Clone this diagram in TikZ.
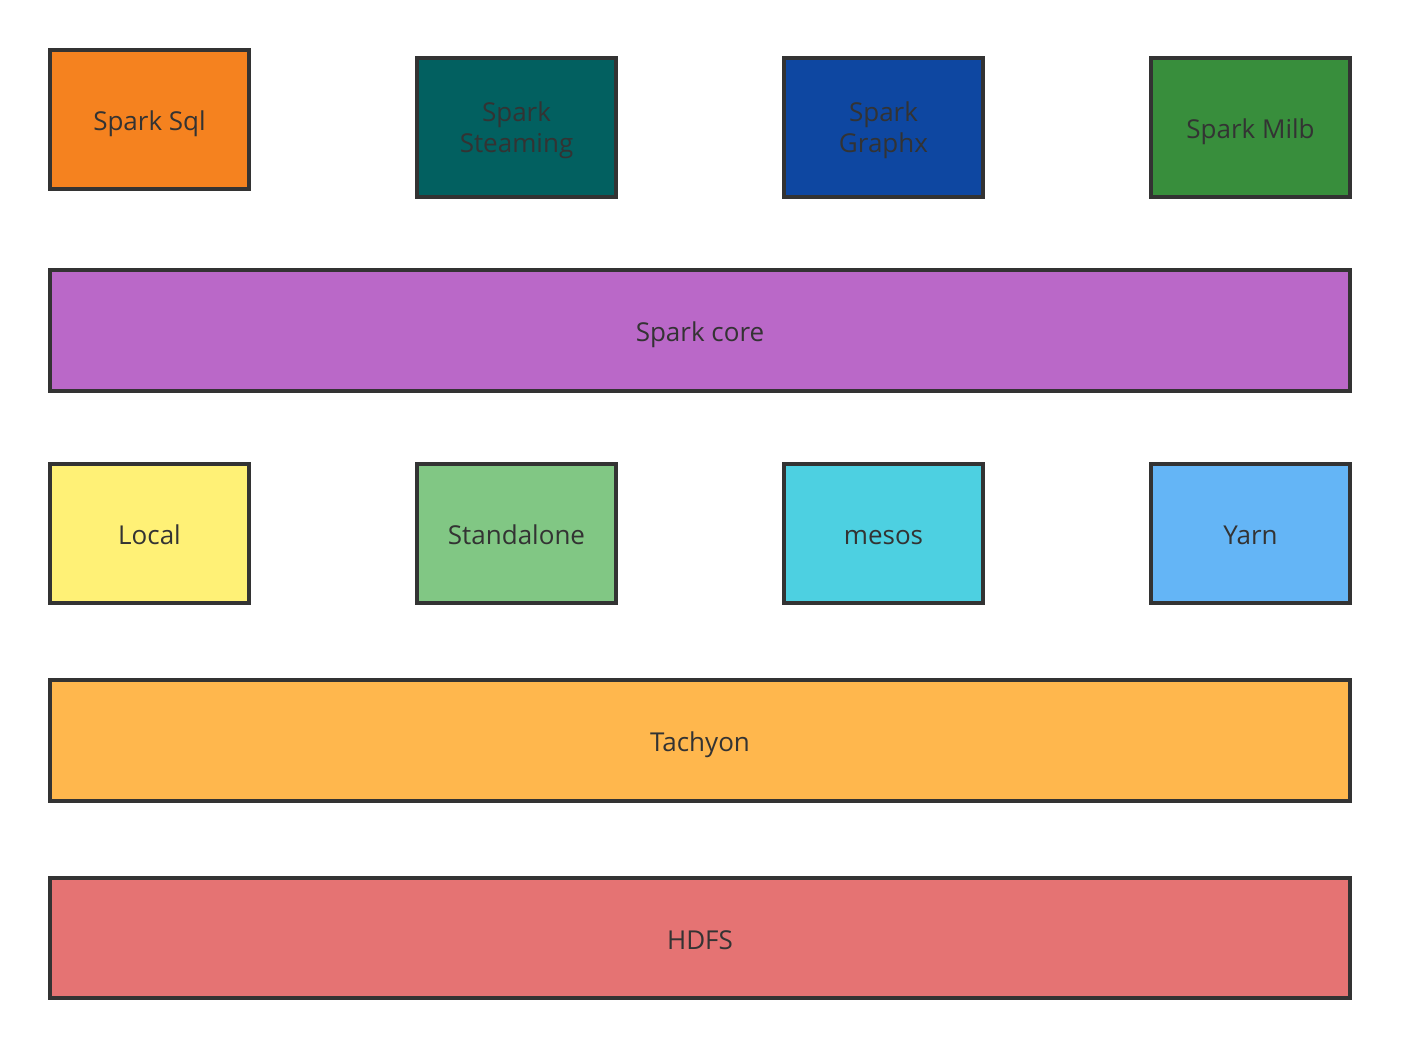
\documentclass[tikz,border=0pt]{standalone}
\usepackage{fontspec}
\setmainfont{Open Sans}
\usepackage{xcolor}
\definecolor{edgegray}{HTML}{333333}
\definecolor{sqlorange}{HTML}{F5821F}
\definecolor{streamteal}{HTML}{026060}
\definecolor{graphblue}{HTML}{0E47A1}
\definecolor{mlibgreen}{HTML}{388E3C}
\definecolor{corepurple}{HTML}{BA68C8}
\definecolor{localyellow}{HTML}{FFF176}
\definecolor{standgreen}{HTML}{81C784}
\definecolor{mesoscyan}{HTML}{4DD0E1}
\definecolor{yarnblue}{HTML}{64B5F6}
\definecolor{tachamber}{HTML}{FFB74D}
\definecolor{hdfsred}{HTML}{E57373}
\usetikzlibrary{positioning}

\begin{document}
\begin{tikzpicture}[
  block/.style={draw=edgegray, line width=2.3pt, text=edgegray, align=center,
    font=\fontsize{14.8pt}{17.6pt}\selectfont, inner sep=0pt,
    text height=12.8pt, text depth=0pt,
    minimum width=3.98cm, minimum height=2.78cm},
  twoline/.style={block, text height=28.8pt},
  layer/.style={block, minimum width=26.0cm, minimum height=2.42cm}
]
\useasboundingbox (0,0) rectangle (28.02,21);

% --- Top row: libraries ---
\node[block, fill=sqlorange]     (sql)    at (2.99,18.61)  {Spark Sql};
\node[twoline, fill=streamteal]  (stream) at (10.33,18.45) {Spark\\Steaming};
\node[twoline, fill=graphblue]   (graphx) at (17.67,18.45) {Spark\\Graphx};
\node[block, fill=mlibgreen]     (milb)   at (25.01,18.45) {Spark Milb};

% --- Core ---
\node[layer, fill=corepurple] (core) at (14.0,14.39) {Spark core};

% --- Cluster managers ---
\node[block, fill=localyellow] (local) at (2.99,10.33)  {Local};
\node[block, fill=standgreen]  (stand) at (10.33,10.33) {Standalone};
\node[block, fill=mesoscyan]   (mesos) at (17.67,10.33) {mesos};
\node[block, fill=yarnblue]    (yarn)  at (25.01,10.33) {Yarn};

% --- Storage ---
\node[layer, fill=tachamber] (tachyon) at (14.0,6.19) {Tachyon};
\node[layer, fill=hdfsred, minimum height=2.40cm] (hdfs) at (14.0,2.24) {HDFS};

\end{tikzpicture}
\end{document}
